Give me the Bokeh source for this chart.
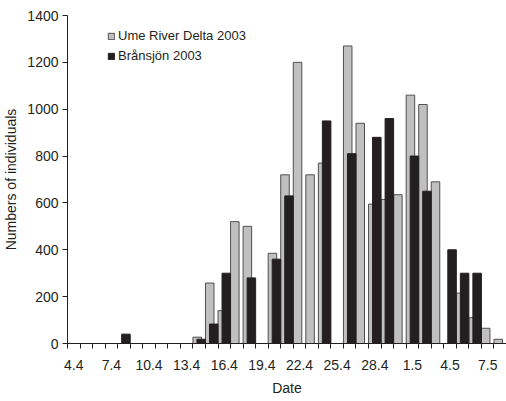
from bokeh.plotting import figure
from bokeh.models import Range1d, FixedTicker, Legend, ColumnDataSource
from bokeh.embed import file_html
from bokeh.resources import INLINE

dates = ["4.4", "5.4", "6.4", "7.4", "8.4", "9.4", "10.4", "11.4", "12.4", "13.4",
         "14.4", "15.4", "16.4", "17.4", "18.4", "19.4", "20.4", "21.4", "22.4", "23.4",
         "24.4", "25.4", "26.4", "27.4", "28.4", "29.4", "30.4", "1.5", "2.5", "3.5",
         "4.5", "5.5", "6.5", "7.5", "8.5"]
ume = [0, 0, 0, 0, 0, 0, 0, 0, 0, 0,
       27, 258, 140, 520, 500, 0, 385, 720, 1200, 720,
       770, 0, 1270, 940, 595, 615, 635, 1060, 1020, 690,
       0, 215, 110, 65, 18]
bransjon = [0, 0, 0, 0, 40, 0, 0, 0, 0, 0,
            18, 83, 300, 0, 280, 0, 360, 630, 0, 0,
            950, 0, 810, 0, 880, 960, 0, 800, 650, 0,
            400, 300, 300, 0, 0]
y_ticks = [0, 200, 400, 600, 800, 1000, 1200, 1400]
label_every = 3

TXT = "#231f20"
FONT = "Liberation Sans"

n = len(dates)
W, H = 506, 401
LEFT, TOP, BOTTOM = 66, 15, 58

p = figure(width=W, height=H, x_range=Range1d(0, n), y_range=Range1d(0, 1400),
           output_backend="svg", toolbar_location=None,
           min_border_left=LEFT, min_border_right=0, min_border_top=TOP,
           min_border_bottom=BOTTOM)
p.outline_line_color = None
p.xgrid.visible = False
p.ygrid.visible = False
p.background_fill_color = "white"

def src(vals, off):
    xs = [i + off for i, v in enumerate(vals) if v > 0]
    ts = [v for v in vals if v > 0]
    return ColumnDataSource(dict(x=xs, top=ts))

r1 = p.vbar(x="x", top="top", width=0.68, source=src(ume, 0.34),
            fill_color="#c0c0c0", line_color="#505050", line_width=1)
r2 = p.vbar(x="x", top="top", width=0.68, source=src(bransjon, 0.66),
            fill_color="#231f20", line_color="#231f20", line_width=1)

# x axis
xt = [i + 0.5 for i in range(0, n, label_every)]
p.xaxis.ticker = FixedTicker(ticks=xt, minor_ticks=list(range(0, n + 1)))
p.xaxis.major_label_overrides = {i + 0.5: dates[i] for i in range(0, n, label_every)}
p.xaxis.major_tick_out = 0
p.xaxis.major_tick_in = 0
p.xaxis.minor_tick_out = 5
p.xaxis.minor_tick_in = 0
p.xaxis.axis_label = "Date"

# y axis
p.yaxis.ticker = FixedTicker(ticks=y_ticks, minor_ticks=[])
p.yaxis.major_tick_out = 5
p.yaxis.major_tick_in = 0
p.yaxis.minor_tick_out = 0
p.yaxis.axis_label = "Numbers of individuals"

for ax in (p.xaxis[0], p.yaxis[0]):
    ax.axis_line_color = TXT
    ax.major_tick_line_color = TXT
    ax.minor_tick_line_color = TXT
    ax.major_label_text_font = FONT
    ax.major_label_text_font_size = "14px"
    ax.major_label_text_color = TXT
    ax.axis_label_text_font = FONT
    ax.axis_label_text_font_size = "14px"
    ax.axis_label_text_font_style = "normal"
    ax.axis_label_text_color = TXT
p.xaxis.major_label_standoff = 11
p.xaxis.axis_label_standoff = 7
p.yaxis.major_label_standoff = 4
p.yaxis.axis_label_standoff = 5

legend = Legend(items=[("Ume River Delta 2003", [r1]), ("Brånsjön 2003", [r2])],
                location=(40, 280), orientation="vertical")
legend.border_line_color = None
legend.background_fill_alpha = 0
legend.padding = 0
legend.margin = 0
legend.glyph_width = 8
legend.glyph_height = 8
legend.label_standoff = 3
legend.label_height = 15
legend.spacing = 5
legend.label_text_font = FONT
legend.label_text_font_size = "13px"
legend.label_text_color = TXT
p.add_layout(legend)

open("out.html", "w").write(file_html(p, INLINE))
